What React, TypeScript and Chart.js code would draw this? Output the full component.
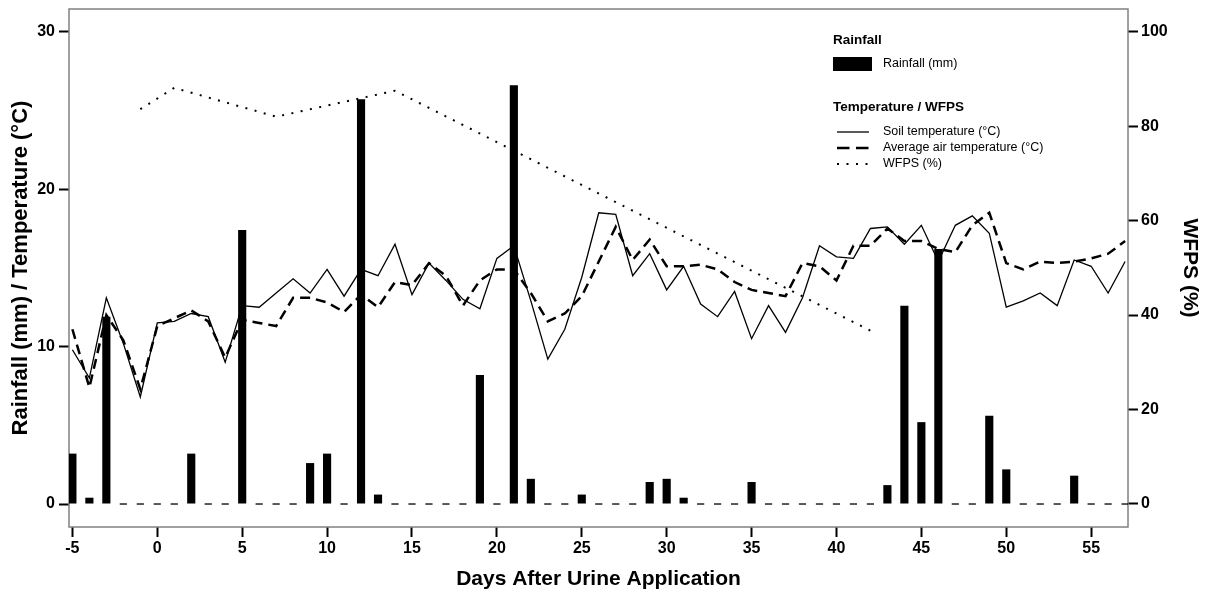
import React, { useEffect, useRef } from "react";
import { Chart, registerables } from "chart.js";

Chart.register(...registerables);

// ---------------- data ----------------
const days = [
  -5, -4, -3, -2, -1, 0, 1, 2, 3, 4, 5, 6, 7, 8, 9, 10, 11, 12, 13, 14, 15, 16, 17, 18, 19, 20,
  21, 22, 23, 24, 25, 26, 27, 28, 29, 30, 31, 32, 33, 34, 35, 36, 37, 38, 39, 40, 41, 42, 43,
  44, 45, 46, 47, 48, 49, 50, 51, 52, 53, 54, 55, 56, 57,
];

const rainfall = [
  3.2, 0.4, 11.9, 0, 0, 0, 0, 3.2, 0, 0, 17.4, 0, 0, 0, 2.6, 3.2, 0, 25.7, 0.6, 0, 0, 0, 0, 0, 8.2, 0,
  26.6, 1.6, 0, 0, 0.6, 0, 0, 0, 1.4, 1.6, 0.4, 0, 0, 0, 1.4, 0, 0, 0, 0, 0, 0, 0, 1.2,
  12.6, 5.2, 16.2, 0, 0, 5.6, 2.2, 0, 0, 0, 1.8, 0, 0, 0,
];

const soilTemp = [
  9.8, 8.0, 13.1, 10.2, 6.8, 11.5, 11.6, 12.1, 11.9, 9.0, 12.6, 12.5, 13.4, 14.3, 13.4, 14.9, 13.2,
  14.9, 14.5, 16.5, 13.3, 15.3, 14.2, 13.0, 12.4, 15.6, 16.4, 12.9, 9.2, 11.1, 14.4, 18.5, 18.4,
  14.5, 15.9, 13.6, 15.1, 12.7, 11.9, 13.5, 10.5, 12.6, 10.9, 13.1, 16.4, 15.7, 15.6, 17.5, 17.6,
  16.5, 17.7, 15.4, 17.7, 18.3, 17.2, 12.5, 12.9, 13.4, 12.6, 15.5, 15.1, 13.4, 15.4,
];

const airTemp = [
  11.1, 7.4, 12.0, 10.4, 7.3, 11.3, 11.8, 12.3, 11.6, 9.3, 11.7, 11.5, 11.3, 13.1, 13.1, 12.8, 12.2,
  13.3, 12.5, 14.1, 13.9, 15.3, 14.5, 12.6, 14.2, 14.9, 14.9, 13.4, 11.6, 12.1, 13.2, 15.4, 17.6,
  15.5, 16.8, 15.1, 15.1, 15.2, 14.9, 14.1, 13.6, 13.4, 13.2, 15.3, 15.1, 14.2, 16.4, 16.4, 17.5,
  16.7, 16.7, 16.2, 16.0, 17.7, 18.5, 15.3, 14.9, 15.4, 15.3, 15.4, 15.6, 15.9, 16.7,
];

const wfpsDays = [-1, 1, 7, 14, 42];
const wfps = [83.6, 88.1, 82.0, 87.5, 36.7];

const xTicks = [-5, 0, 5, 10, 15, 20, 25, 30, 35, 40, 45, 50, 55];
const leftTicks = [0, 10, 20, 30];
const rightTicks = [0, 20, 40, 60, 80, 100];

// ---------------- styling ----------------
const FONT = "'Liberation Sans', Arial, Helvetica, sans-serif";
const SOLID_W = 1.3;
const DASH = [10, 6];
const DASH_W = 2.5;
const DOT = [2, 7.5];
const DOT_W = 2;

const framePlugin = {
  id: "frame",
  beforeDatasetsDraw(chart: any) {
    const { ctx, chartArea: a } = chart;
    ctx.save();
    ctx.strokeStyle = "#808080";
    ctx.lineWidth = 1.5;
    ctx.strokeRect(a.left, a.top, a.right - a.left, a.bottom - a.top);
    ctx.restore();
  },
};

const legendPlugin = {
  id: "customLegend",
  afterDraw(chart: any) {
    const ctx = chart.ctx;
    ctx.save();
    ctx.fillStyle = "#000";
    ctx.textBaseline = "middle";
    ctx.textAlign = "left";
    ctx.font = `bold 13.5px ${FONT}`;
    ctx.fillText("Rainfall", 833, 40);
    ctx.fillRect(833, 57, 39, 14);
    ctx.font = `12.5px ${FONT}`;
    ctx.fillText("Rainfall (mm)", 883, 64);
    ctx.font = `bold 13.5px ${FONT}`;
    ctx.fillText("Temperature / WFPS", 833, 107);

    const line = (y: number, dash: number[], w: number) => {
      ctx.beginPath();
      ctx.setLineDash(dash);
      ctx.lineWidth = w;
      ctx.strokeStyle = "#000";
      ctx.moveTo(837, y);
      ctx.lineTo(869, y);
      ctx.stroke();
    };
    line(132, [], SOLID_W);
    line(148, [12.5, 6.5], DASH_W);
    line(164, DOT, DOT_W);
    ctx.setLineDash([]);
    ctx.font = `12.5px ${FONT}`;
    ctx.fillText("Soil temperature (°C)", 883, 132);
    ctx.fillText("Average air temperature (°C)", 883, 148);
    ctx.fillText("WFPS (%)", 883, 164);
    ctx.restore();
  },
};

export default function App() {
  const ref = useRef<HTMLCanvasElement | null>(null);

  useEffect(() => {
    if (!ref.current) return;
    Chart.defaults.font.family = FONT;
    Chart.defaults.color = "#000";

    const rainPts = days.map((d, i) => ({ x: d, y: rainfall[i] }));
    const zeroPts = days.filter((_, i) => rainfall[i] === 0).map((d) => ({ x: d, y: 0 }));
    const soilPts = days.map((d, i) => ({ x: d, y: soilTemp[i] }));
    const airPts = days.map((d, i) => ({ x: d, y: airTemp[i] }));
    const wfpsPts = wfpsDays.map((d, i) => ({ x: d, y: wfps[i] }));

    const tickGrid = {
      display: true,
      drawOnChartArea: false,
      drawTicks: true,
      tickLength: 10,
      tickColor: "#000",
      tickWidth: 2,
      offset: false,
    };

    const chart = new Chart(ref.current, {
      type: "line",
      data: {
        datasets: [
          {
            type: "bar",
            label: "Rainfall (mm)",
            data: rainPts,
            backgroundColor: "#000",
            borderWidth: 0,
            barPercentage: 0.48,
            categoryPercentage: 1,
            yAxisID: "y",
            order: 0,
          } as any,
          {
            type: "line",
            label: "zero rainfall",
            data: zeroPts,
            showLine: false,
            pointStyle: "line",
            pointRadius: 3.6,
            pointBorderWidth: 1.3,
            pointBorderColor: "#000",
            pointBackgroundColor: "#000",
            yAxisID: "y",
            order: 1,
          },
          {
            type: "line",
            label: "Soil temperature (°C)",
            data: soilPts,
            borderColor: "#000",
            borderWidth: SOLID_W,
            pointRadius: 0,
            tension: 0,
            yAxisID: "y",
            order: 2,
          },
          {
            type: "line",
            label: "Average air temperature (°C)",
            data: airPts,
            borderColor: "#000",
            borderWidth: DASH_W,
            borderDash: DASH,
            pointRadius: 0,
            tension: 0,
            yAxisID: "y",
            order: 3,
          },
          {
            type: "line",
            label: "WFPS (%)",
            data: wfpsPts,
            borderColor: "#000",
            borderWidth: DOT_W,
            borderDash: DOT,
            pointRadius: 0,
            tension: 0,
            yAxisID: "y2",
            order: 4,
          },
        ],
      },
      options: {
        animation: false,
        responsive: true,
        maintainAspectRatio: false,
        devicePixelRatio: 1,
        layout: { padding: { top: 9, left: 0, right: 0, bottom: 0 } },
        plugins: {
          legend: { display: false },
          tooltip: { enabled: false },
        },
        scales: {
          x: {
            type: "linear",
            min: -5.2,
            max: 57.17,
            offset: false,
            afterBuildTicks: (s: any) => {
              s.ticks = xTicks.map((v) => ({ value: v }));
            },
            afterFit: (s: any) => {
              s.height = 70;
              s.paddingLeft = 0;
              s.paddingRight = 0;
            },
            grid: tickGrid as any,
            border: { display: false },
            ticks: {
              color: "#000",
              font: { size: 16, weight: "bold" },
              padding: 2,
              maxRotation: 0,
              autoSkip: false,
            },
            title: {
              display: true,
              text: "Days After Urine Application",
              color: "#000",
              font: { size: 21, weight: "bold" },
              padding: { top: 0, bottom: 5 },
            },
          },
          y: {
            type: "linear",
            position: "left",
            min: -1.46,
            max: 31.44,
            afterBuildTicks: (s: any) => {
              s.ticks = leftTicks.map((v) => ({ value: v }));
            },
            afterFit: (s: any) => {
              s.width = 69;
              s.paddingTop = 0;
              s.paddingBottom = 0;
            },
            grid: tickGrid as any,
            border: { display: false },
            ticks: { color: "#000", font: { size: 16, weight: "bold" }, padding: 4 },
            title: {
              display: true,
              text: "Rainfall (mm) / Temperature (°C)",
              color: "#000",
              font: { size: 22, weight: "bold" },
              padding: { top: 7.5, bottom: 0 },
            },
          },
          y2: {
            type: "linear",
            position: "right",
            min: -4.87,
            max: 104.8,
            afterBuildTicks: (s: any) => {
              s.ticks = rightTicks.map((v) => ({ value: v }));
            },
            afterFit: (s: any) => {
              s.width = 77;
              s.paddingTop = 0;
              s.paddingBottom = 0;
            },
            grid: tickGrid as any,
            border: { display: false },
            ticks: { color: "#000", font: { size: 16, weight: "bold" }, padding: 3 },
            title: {
              display: true,
              text: "WFPS (%)",
              color: "#000",
              font: { size: 21, weight: "bold" },
              padding: { top: 3, bottom: 0 },
            },
          },
        },
      } as any,
      plugins: [framePlugin, legendPlugin],
    });

    return () => chart.destroy();
  }, []);

  return (
    <div
      style={{
        position: "fixed",
        left: 0,
        top: 0,
        width: 1205,
        height: 597,
        background: "#fff",
      }}
    >
      <canvas ref={ref} />
    </div>
  );
}
